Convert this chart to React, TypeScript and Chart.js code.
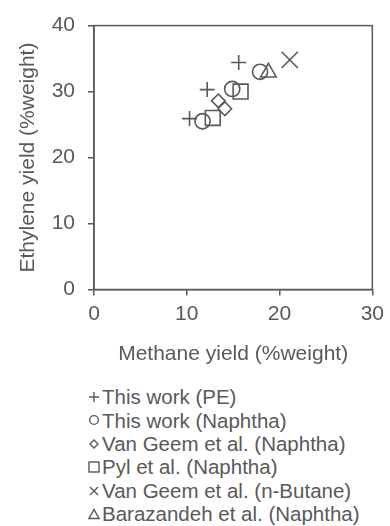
import React, { useEffect, useRef } from 'react';
import { Chart, registerables } from 'chart.js';

Chart.register(...registerables);

// ---- data ----
const seriesNames = [
  'This work (PE)',
  'This work (Naphtha)',
  'Van Geem et al. (Naphtha)',
  'Pyl et al. (Naphtha)',
  'Van Geem et al. (n-Butane)',
  'Barazandeh et al. (Naphtha)',
];
const pointStyles = ['cross', 'circle', 'rectRot', 'rect', 'crossRot', 'triangle'];
const pointRadii = [7.5, 7.6, 6.8, 10.5, 11.5, 9];

const peMethane = [15.6, 12.2, 10.3];
const peEthylene = [34.4, 30.3, 25.9];
const naphthaMethane = [17.9, 14.9, 11.7];
const naphthaEthylene = [33.0, 30.4, 25.5];
const vanGeemNaphthaMethane = [13.4, 14.1];
const vanGeemNaphthaEthylene = [28.6, 27.4];
const pylMethane = [15.8, 12.8];
const pylEthylene = [30.0, 26.0];
const vanGeemButaneMethane = [21.1];
const vanGeemButaneEthylene = [34.8];
const barazandehMethane = [18.8];
const barazandehEthylene = [32.9];

const xTickValues = [0, 10, 20, 30];
const yTickValues = [0, 10, 20, 30, 40];

const seriesX = [peMethane, naphthaMethane, vanGeemNaphthaMethane, pylMethane, vanGeemButaneMethane, barazandehMethane];
const seriesY = [peEthylene, naphthaEthylene, vanGeemNaphthaEthylene, pylEthylene, vanGeemButaneEthylene, barazandehEthylene];

const GRAY = '#595959';
const FONT = '"Liberation Sans", Arial, sans-serif';

const boxPlugin = {
  id: 'plotBox',
  beforeDatasetsDraw(chart: any) {
    const { ctx, chartArea: a } = chart;
    ctx.save();
    ctx.strokeStyle = GRAY;
    ctx.lineWidth = 1.5;
    ctx.strokeRect(a.left, a.top, a.right - a.left, a.bottom - a.top);
    ctx.restore();
  },
};

function LegendIcon({ style }: { style: string }) {
  const s = 12;
  const c = s / 2;
  const common = { fill: 'none', stroke: GRAY, strokeWidth: 1.4 } as any;
  let shape: any = null;
  if (style === 'cross') {
    shape = <path d={`M${c} 1 V${s - 1} M1 ${c} H${s - 1}`} {...common} />;
  } else if (style === 'circle') {
    shape = <circle cx={c} cy={c} r={4.4} {...common} />;
  } else if (style === 'rectRot') {
    shape = <path d={`M${c} 2 L${s - 2} ${c} L${c} ${s - 2} L2 ${c} Z`} {...common} />;
  } else if (style === 'rect') {
    shape = <rect x={1} y={1} width={s - 2} height={s - 2} {...common} />;
  } else if (style === 'crossRot') {
    shape = <path d={`M2 2 L${s - 2} ${s - 2} M${s - 2} 2 L2 ${s - 2}`} {...common} />;
  } else if (style === 'triangle') {
    shape = <path d={`M${c} 1.5 L${s - 1} ${s - 1.5} L1 ${s - 1.5} Z`} {...common} />;
  }
  return (
    <svg width={s} height={s} style={{ display: 'block', marginRight: 2, flex: '0 0 auto' }}>
      {shape}
    </svg>
  );
}

export default function App() {
  const canvasRef = useRef<HTMLCanvasElement | null>(null);

  useEffect(() => {
    const canvas = canvasRef.current;
    if (!canvas) return;
    Chart.defaults.font.family = FONT;
    const datasets = seriesNames.map((name, i) => ({
      label: name,
      data: seriesX[i].map((x, j) => ({ x, y: seriesY[i][j] })),
      pointStyle: pointStyles[i] as any,
      pointRadius: pointRadii[i],
      pointHoverRadius: pointRadii[i],
      pointBackgroundColor: 'rgba(0,0,0,0)',
      pointBorderColor: GRAY,
      pointBorderWidth: 1.6,
      showLine: false,
    }));
    const chart = new Chart(canvas, {
      type: 'scatter',
      data: { datasets },
      plugins: [boxPlugin],
      options: {
        animation: false,
        responsive: false,
        layout: { padding: { left: 0, right: 13, top: 21, bottom: 0 } },
        plugins: { legend: { display: false }, tooltip: { enabled: false } },
        scales: {
          x: {
            type: 'linear',
            min: 0,
            max: 30,
            afterBuildTicks: (scale: any) => {
              scale.ticks = xTickValues.map((v) => ({ value: v }));
            },
            afterFit: (scale: any) => {
              scale.height = 380 - 289.5;
            },
            ticks: { color: GRAY, font: { size: 21, family: FONT }, padding: 6 },
            grid: { drawOnChartArea: false, drawTicks: true, tickLength: 6, color: GRAY, lineWidth: 1.5 },
            border: { display: true, color: GRAY, width: 1.5 },
            title: { display: true, text: 'Methane yield (%weight)', color: GRAY, font: { size: 21, family: FONT }, padding: { top: 0, bottom: 13 } },
          },
          y: {
            type: 'linear',
            min: 0,
            max: 40,
            afterBuildTicks: (scale: any) => {
              scale.ticks = yTickValues.map((v) => ({ value: v }));
            },
            afterFit: (scale: any) => {
              scale.width = 94;
            },
            ticks: { color: GRAY, font: { size: 21, family: FONT }, padding: 13 },
            grid: { drawOnChartArea: false, drawTicks: true, tickLength: 6, color: GRAY, lineWidth: 1.5 },
            border: { display: true, color: GRAY, width: 1.5 },
            title: { display: true, text: 'Ethylene yield (%weight)', color: GRAY, font: { size: 21, family: FONT }, padding: { top: 16, bottom: 0 } },
          },
        },
      },
    });
    return () => chart.destroy();
  }, []);

  return (
    <div style={{ position: 'absolute', left: 0, top: 0, width: 390, height: 526, background: '#fff', overflow: 'hidden' }}>
      <canvas ref={canvasRef} width={390} height={380} style={{ display: 'block' }} />
      <div
        style={{
          position: 'absolute',
          left: 88,
          top: 385.3,
          fontFamily: FONT,
          fontSize: 20.5,
          color: GRAY,
          whiteSpace: 'nowrap',
        }}
      >
        {seriesNames.map((name, i) => (
          <div key={name} style={{ display: 'flex', alignItems: 'center', height: 23.4, lineHeight: '23.4px' }}>
            <LegendIcon style={pointStyles[i]} />
            <span>{name}</span>
          </div>
        ))}
      </div>
    </div>
  );
}
